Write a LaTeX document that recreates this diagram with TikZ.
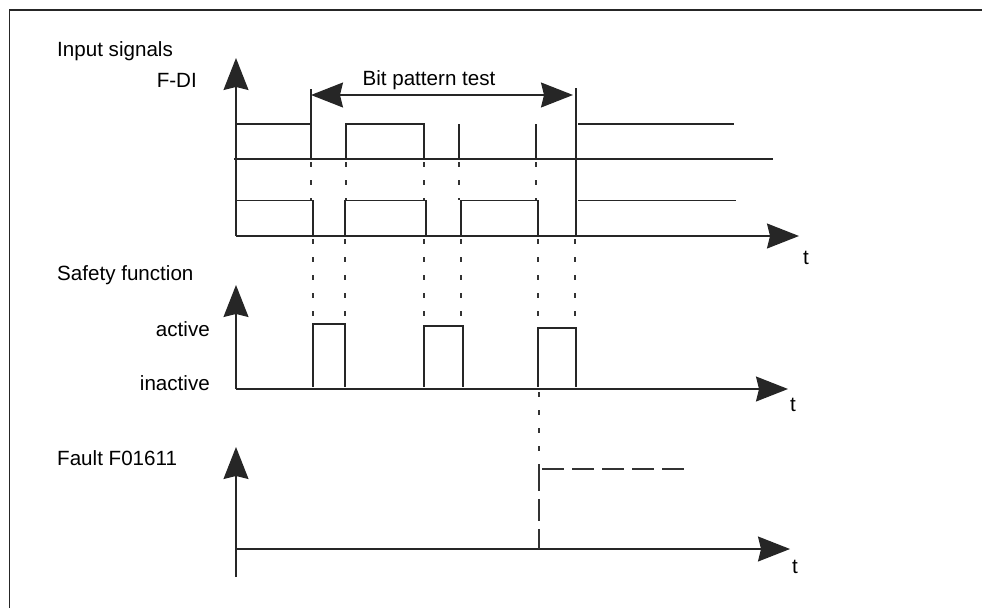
\documentclass[tikz,border=0pt]{standalone}
\usepackage{fontspec}
\setmainfont{Liberation Sans}
\usetikzlibrary{arrows.meta,positioning}
\begin{document}
\begin{tikzpicture}
                [x=1pt,y=-1pt,
                ln/.style={line width=1.3pt,draw=black!85},
                ax/.style={ln,-{Stealth[length=32pt,width=25pt,inset=3pt]}},
                span/.style={ln,{Stealth[length=32pt,width=25pt,inset=3pt]}-{Stealth[length=32pt,width=25pt,inset=3pt]}},
                dsh/.style={line width=1.3pt,draw=black!80,dash pattern=on 5pt off 13pt},
                lng/.style={line width=1.3pt,draw=black!80,dash pattern=on 22pt off 8pt},
                lbl/.style={font=\fontsize{20.6}{24}\selectfont,inner sep=0pt}]
                \useasboundingbox (0,0) rectangle (982,608);
                \draw[ln] (9.5,608) -- (9.5,10) -- (982,10);
                % axes
                \coordinate (in0) at (236,236);
                \coordinate (inup) at (236,58);
                \coordinate (int) at (799,236);
                \coordinate (sf0) at (236,389);
                \coordinate (sfup) at (236,285);
                \coordinate (sft) at (788,389);
                \coordinate (fl0) at (236,577);
                \coordinate (flup) at (236,447);
                \coordinate (flax) at (236,549);
                \coordinate (flt) at (790,549);
                \draw[ax] (in0) -- (inup);
                \draw[ax] (in0) -- (int);
                \draw[ax] (sf0) -- (sfup);
                \draw[ax] (sf0) -- (sft);
                \draw[ax] (fl0) -- (flup);
                \draw[ax] (flax) -- (flt);
                % labels
                \node[lbl,anchor=base west] (textin) at (57,56.5) {Input signals};
                \node[lbl,anchor=base east] (textfdi) at (197,87) {F-DI};
                \node[lbl,anchor=base] (textbpt) at (429,85) {Bit pattern test};
                \node[lbl,anchor=base west] (textsf) at (57,280) {Safety function};
                \node[lbl,anchor=base east] (textact) at (210,336.7) {active};
                \node[lbl,anchor=base east] (textinact) at (210,390.7) {inactive};
                \node[lbl,anchor=base west] (textfl) at (57,465.7) {Fault F01611};
                \node[lbl,anchor=base west] (textt1) at (803,264) {t};
                \node[lbl,anchor=base west] (textt2) at (790,411) {t};
                \node[lbl,anchor=base west] (textt3) at (792,573) {t};
                % bit pattern test
                \coordinate (bpl) at (311,95);
                \coordinate (bpr) at (573,95);
                \draw[ln] (311,89) -- (311,159);
                \draw[ln] (576,88) -- (576,236);
                \draw[span] (bpl) -- (bpr);
                % input signals
                \draw[ln] (236,124) -- (312,124)
                          (346,159) -- (346,124) -- (424,124) -- (424,159)
                          (459,124) -- (459,159)
                          (536,124) -- (536,159)
                          (578,124) -- (734,124);
                \draw[ln] (234,159) -- (773,159);
                \draw[ln] (236,200.7) -- (314,200.7)
                          (313,200.7) -- (313,236)
                          (345,236) -- (345,200.7) -- (427,200.7)
                          (426,200.7) -- (426,236)
                          (461,236) -- (461,200.7) -- (539,200.7)
                          (538,200.7) -- (538,236)
                          (578,200.7) -- (736,200.7);
                \draw[dsh] (311,162) -- (311,200)
                           (346,162) -- (346,200)
                           (424,162) -- (424,200)
                           (459,162) -- (459,200)
                           (536,162) -- (536,200);
                \draw[dsh] (313,239) -- (313,324)
                           (345,239) -- (345,324)
                           (424,239) -- (424,326)
                           (461,239) -- (461,326)
                           (538,239) -- (538,328)
                           (575,239) -- (575,328);
                % safety function
                \draw[ln] (313,387) -- (313,324) -- (345,324) -- (345,387)
                          (424,387) -- (424,326) -- (463,326) -- (463,387)
                          (538,387) -- (538,328) -- (576,328) -- (576,387);
                % fault
                \draw[dsh] (539,392) -- (539,469);
                \draw[lng] (539,469) -- (539,549);
                \draw[lng] (542,469) -- (688,469);
            \end{tikzpicture}
\end{document}
